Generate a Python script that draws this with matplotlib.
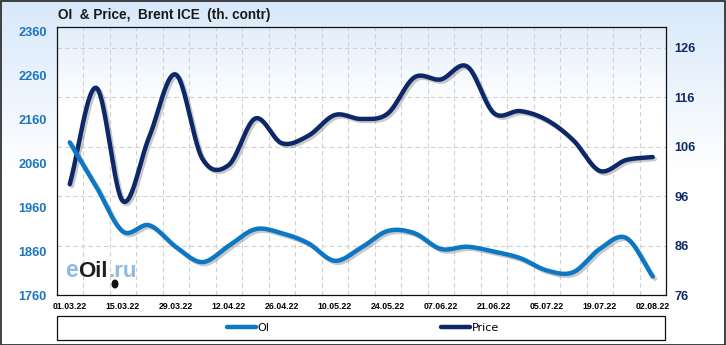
import numpy as np
import matplotlib
matplotlib.use("Agg")
from matplotlib import pyplot as plt
from matplotlib import patheffects as pe
from matplotlib.patches import Rectangle, Ellipse
from matplotlib.colors import LinearSegmentedColormap

# weekly points, 01.03.22 .. 02.08.22
dates = ['01.03.22', '08.03.22', '15.03.22', '22.03.22', '29.03.22', '05.04.22',
         '12.04.22', '19.04.22', '26.04.22', '03.05.22', '10.05.22', '17.05.22',
         '24.05.22', '31.05.22', '07.06.22', '14.06.22', '21.06.22', '28.06.22',
         '05.07.22', '12.07.22', '19.07.22', '26.07.22', '02.08.22']
oi = [2108, 2007, 1905, 1919, 1870, 1835, 1872, 1910, 1901, 1878, 1838, 1868,
      1906, 1901, 1865, 1870, 1859, 1844, 1816, 1812, 1865, 1890, 1802]
price = [98.4, 117.9, 95.0, 108.0, 120.6, 103.6, 102.3, 111.7, 106.7, 108.2, 112.4, 111.6,
         112.7, 120.0, 119.6, 122.2, 112.8, 113.2, 111.4, 107.3, 101.1, 103.3, 103.9]
oi_ticks = [1760, 1860, 1960, 2060, 2160, 2260, 2360]
price_ticks = [76, 86, 96, 106, 116, 126]

OI_COLOR = '#0b77c5'
PRICE_COLOR = '#0c2869'
FONT = 'Liberation Sans'


def smooth(y, n=24):
    # cardinal (catmull-rom) spline through the points, like the "smoothed line" option
    y = np.asarray(y, float)
    m = np.gradient(y)
    t = np.linspace(0, 1, n, endpoint=False)
    h00 = 2 * t**3 - 3 * t**2 + 1
    h10 = t**3 - 2 * t**2 + t
    h01 = -2 * t**3 + 3 * t**2
    h11 = t**3 - t**2
    xs, ys = [], []
    for i in range(len(y) - 1):
        xs.append(i + t)
        ys.append(h00 * y[i] + h10 * m[i] + h01 * y[i + 1] + h11 * m[i + 1])
    xs.append([len(y) - 1])
    ys.append([y[-1]])
    return np.concatenate(xs), np.concatenate(ys)


fig = plt.figure(figsize=(7.26, 3.45), dpi=100)
W, H = 726, 345

# figure background gradient
bg = fig.add_axes([0, 0, 1, 1], zorder=-10)
bg.axis('off')
grad = np.clip((np.linspace(0, 1, 256) - 0.5) / 0.5, 0, 1)[:, None]
cmap_fig = LinearSegmentedColormap.from_list('figbg', ['#ffffff', '#d8e8fa'])
bg.imshow(grad, aspect='auto', cmap=cmap_fig, extent=(0, 1, 0, 1), vmin=0, vmax=1)
bg.set_xlim(0, 1)
bg.set_ylim(1, 0)

pos = [56.5 / W, 1 - 295 / H, (666 - 56.5) / W, (295 - 27) / H]
ax2 = fig.add_axes(pos, zorder=1)
ax = fig.add_axes(pos, zorder=2, sharex=ax2)
ax.patch.set_visible(False)

# plot area gradient
grad2 = np.clip((np.linspace(0, 1, 256) - 0.72) / 0.28, 0, 1)[:, None]
cmap_ax = LinearSegmentedColormap.from_list('axbg', ['#ffffff', '#e2eefb'])
ax2.imshow(grad2, aspect='auto', cmap=cmap_ax, extent=(0, 1, 1, 0),
           transform=ax2.transAxes, vmin=0, vmax=1, zorder=0)

shadow = [pe.SimpleLineShadow(offset=(1.5, -1.5), shadow_color='#666666', alpha=0.35),
          pe.Normal()]

x = np.arange(len(dates))
sx, sy = smooth(price)
ax2.plot(sx, sy, color=PRICE_COLOR, lw=3.2, solid_capstyle='round',
         path_effects=shadow, zorder=3)
sx, sy = smooth(oi)
ax.plot(sx, sy, color=OI_COLOR, lw=3.2, solid_capstyle='round',
        path_effects=shadow, zorder=3)

ax.set_xlim(-0.5, len(dates) - 0.5)
ax.set_xticks(x[::2])
ax.set_xticklabels(dates[::2], fontsize=6.3, fontweight='bold', family=FONT)
ax.set_xticks(np.arange(0.5, len(dates) - 1, 1), minor=True)
ax.tick_params(axis='x', which='both', length=0, pad=5)

ax.set_ylim(1760, 2371)
ax.set_yticks(oi_ticks)
ax.set_yticklabels([str(v) for v in oi_ticks], fontsize=9.2, fontweight='bold',
                   family=FONT, color='#1a74c2')
ax.tick_params(axis='y', length=0, pad=7)

ax2.set_ylim(76, 130.2)
ax2.yaxis.tick_right()
ax2.set_yticks(price_ticks)
ax2.set_yticklabels([str(v) for v in price_ticks], fontsize=9.2, fontweight='bold',
                    family=FONT, color='#112a66')
ax2.tick_params(axis='y', length=0, pad=6)
ax2.tick_params(axis='x', which='both', length=0, labelbottom=False)
ax2.grid(axis='y', which='major', color='#d0d0d0', ls=(0, (4, 3)), lw=0.8)
ax2.grid(axis='x', which='minor', color='#d0d0d0', ls=(0, (4, 3)), lw=0.8)
ax2.set_axisbelow(True)
for s in ax2.spines.values():
    s.set_visible(False)
for s in ax.spines.values():
    s.set_color('#111111')
    s.set_linewidth(0.9)

# title
fig.text(58 / W, 1 - 15 / H, 'OI  & Price,  Brent ICE  (th. contr)', fontsize=9.8,
         fontweight='bold', family=FONT, color='#1a1a1a', va='center', ha='left')

# watermark
fig.text(65 / W, 1 - 277 / H, 'e', fontsize=16.5, fontweight='bold', family=FONT,
         color='#8dbbe2', va='baseline', zorder=5)
fig.text(78 / W, 1 - 277 / H, 'Oil', fontsize=16, fontweight='bold', family=FONT,
         color='#1e1e1e', va='baseline', zorder=5)
fig.text(109 / W, 1 - 277 / H, '.ru', fontsize=16, fontweight='bold', family=FONT,
         color='#8dbbe2', va='baseline', zorder=5)
fig.patches.append(Ellipse((115 / W, 1 - 284 / H), 7 / W, 9 / H, transform=fig.transFigure,
                           facecolor='#111111', edgecolor='none', zorder=6))

# legend box
fig.patches.append(Rectangle((57 / W, 1 - 340 / H), 608 / W, 24 / H,
                             transform=fig.transFigure, facecolor='none',
                             edgecolor='#111111', lw=0.9, zorder=3))
h1, = ax.plot([], [], color=OI_COLOR, lw=3.2, solid_capstyle='round')
h2, = ax.plot([], [], color=PRICE_COLOR, lw=3.2, solid_capstyle='round')
fig.legend([h1, h2], ['OI', 'Price'], loc='center', bbox_to_anchor=(363 / W, 1 - 328 / H),
           ncol=2, frameon=False, handlelength=2.6, handletextpad=0.15,
           columnspacing=15.5, prop={'family': 'DejaVu Sans', 'size': 8})

# outer frame
fig.patches.append(Rectangle((0.5 / W, 0.5 / H), 1 - 1.5 / W, 1 - 1.5 / H,
                             transform=fig.transFigure, facecolor='none',
                             edgecolor='#222222', lw=1.2, zorder=10))

fig.savefig('out.png', dpi=100)
